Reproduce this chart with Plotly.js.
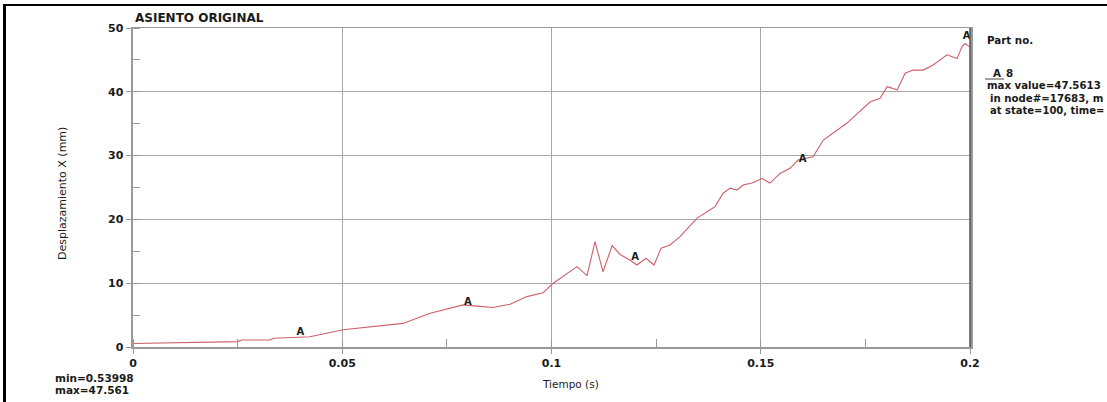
<!DOCTYPE html>
<html>
<head>
<meta charset="utf-8">
<script src="https://cdn.plot.ly/plotly-3.0.1.min.js"></script>
<style>
html,body{margin:0;padding:0;background:#fff;}
#frame{position:absolute;left:3px;top:4px;width:1104px;height:398px;border-left:3px solid #000;border-top:2px solid #000;pointer-events:none;z-index:5;}
#chart{width:1107px;height:402px;}
</style>
</head>
<body>
<div id="frame"></div>
<div id="chart"></div>
<script>
// Data
const timeS = [0, 0.0112, 0.0232, 0.025, 0.026, 0.0327, 0.0337, 0.0423, 0.0502, 0.0597, 0.0645, 0.071,
  0.0789, 0.0822, 0.086, 0.0901, 0.0941, 0.098, 0.1004, 0.1061, 0.1085, 0.1104, 0.1123, 0.1145,
  0.1164, 0.1188, 0.1204, 0.1226, 0.1245, 0.1262, 0.1283, 0.1307, 0.1331, 0.1348, 0.1379, 0.1391,
  0.141, 0.1427, 0.1443, 0.1458, 0.1479, 0.1503, 0.1522, 0.1546, 0.157, 0.1589, 0.1625, 0.1649,
  0.1706, 0.1761, 0.1785, 0.1802, 0.1826, 0.1845, 0.1864, 0.1888, 0.1912, 0.1945, 0.1969, 0.1981,
  0.1988, 0.2];
const dispX = [0.54, 0.7, 0.83, 0.85, 1.1, 1.1, 1.36, 1.6, 2.7, 3.3, 3.7, 5.3,
  6.6, 6.4, 6.2, 6.7, 7.9, 8.5, 10.0, 12.6, 11.2, 16.5, 11.8, 15.9,
  14.5, 13.6, 12.85, 13.9, 12.85, 15.5, 16.0, 17.3, 18.9, 20.2, 21.5, 22.0,
  24.1, 24.9, 24.6, 25.4, 25.7, 26.4, 25.7, 27.2, 28.0, 29.3, 29.8, 32.4,
  35.1, 38.4, 39.0, 40.8, 40.3, 42.9, 43.4, 43.4, 44.2, 45.8, 45.2, 47.1,
  47.56, 47.0];
const labelTimes = [0.04, 0.08, 0.12, 0.16, 0.1992];
const labelValues = [2.3, 6.9, 14.0, 29.4, 48.6];
const xTickVals = [0, 0.05, 0.1, 0.15, 0.2];
const xTickText = ['0', '0.05', '0.1', '0.15', '0.2'];
const yTickVals = [0, 10, 20, 30, 40, 50];

const F = 'DejaVu Sans, Liberation Sans, Arial, sans-serif';
const txt = '#1a1a1a';

const traces = [
  {x: timeS, y: dispX, type: 'scatter', mode: 'lines',
   line: {color: 'rgb(205,95,105)', width: 1.1}, hoverinfo: 'skip'},
  {x: labelTimes, y: labelValues, type: 'scatter', mode: 'text', text: labelTimes.map(() => 'A'),
   textposition: 'middle center', textfont: {family: F, size: 10, color: txt, weight: 'bold'},
   cliponaxis: false, hoverinfo: 'skip'}
];

function py(p) { return (347 - p) / 319; }
function px(p) { return (p - 133) / 837; }

const ann = (x, y, text, opts) => Object.assign({xref: 'paper', yref: 'paper', x: px(x), y: py(y), text: text,
  showarrow: false, xanchor: 'left', yanchor: 'middle', font: {family: F, size: 11, color: txt}}, opts || {});
const bf = (s) => ({family: F, size: s, color: txt, weight: 'bold'});

const layout = {
  width: 1107, height: 402,
  margin: {l: 133, r: 137, t: 28, b: 55, pad: 0},
  paper_bgcolor: '#fff', plot_bgcolor: '#fff',
  showlegend: false,
  xaxis: {range: [0, 0.2], tickvals: xTickVals, ticktext: xTickText, showgrid: true, gridcolor: '#a8a8a8', gridwidth: 1,
    zeroline: false, showline: true, linecolor: '#999', linewidth: 1.5, mirror: true,
    ticks: 'outside', ticklen: 5, tickcolor: '#999',
    minor: {dtick: 0.025, tick0: 0, ticks: 'inside', ticklen: 8, tickcolor: '#999', showgrid: false},
    tickfont: bf(11), fixedrange: true},
  yaxis: {range: [0, 50], tickvals: yTickVals, showgrid: true, gridcolor: '#a8a8a8', gridwidth: 1,
    zeroline: false, showline: true, linecolor: '#999', linewidth: 2.5, mirror: true,
    ticks: 'outside', ticklen: 5, tickcolor: '#999',
    minor: {dtick: 5, tick0: 0, ticks: 'inside', ticklen: 7, tickcolor: '#999', showgrid: false},
    tickfont: bf(11), fixedrange: true},
  shapes: [
    {type: 'line', xref: 'paper', yref: 'paper', x0: 1, x1: 1, y0: 0, y1: 1, line: {color: '#555', width: 1.5}},
    {type: 'line', xref: 'paper', yref: 'paper', x0: px(985), x1: px(1004), y0: py(79), y1: py(79), line: {color: '#444', width: 1}}
  ],
  annotations: [
    ann(133, 18, 'ASIENTO ORIGINAL', {font: bf(12)}),
    ann(62, 194, 'Desplazamiento X (mm)', {xanchor: 'center', textangle: -90, font: {family: F, size: 11, color: txt}}),
    ann(570, 384, 'Tiempo (s)', {xanchor: 'center', font: {family: F, size: 10.5, color: txt}}),
    ann(53, 378, 'min=0.53998', {font: bf(10.5)}),
    ann(53, 390, 'max=47.561', {font: bf(10.5)}),
    ann(985, 40, 'Part no.', {font: bf(10.3)}),
    ann(991, 73, 'A', {font: bf(10.3)}),
    ann(1004, 73, '8', {font: bf(10.3)}),
    ann(985, 86, 'max value=47.5613', {font: bf(10.2)}),
    ann(988, 98, 'in node#=17683, m', {font: bf(10.2)}),
    ann(988, 110, 'at state=100, time=', {font: bf(10)})
  ]
};

Plotly.newPlot('chart', traces, layout, {displayModeBar: false, staticPlot: true});
</script>
</body>
</html>
